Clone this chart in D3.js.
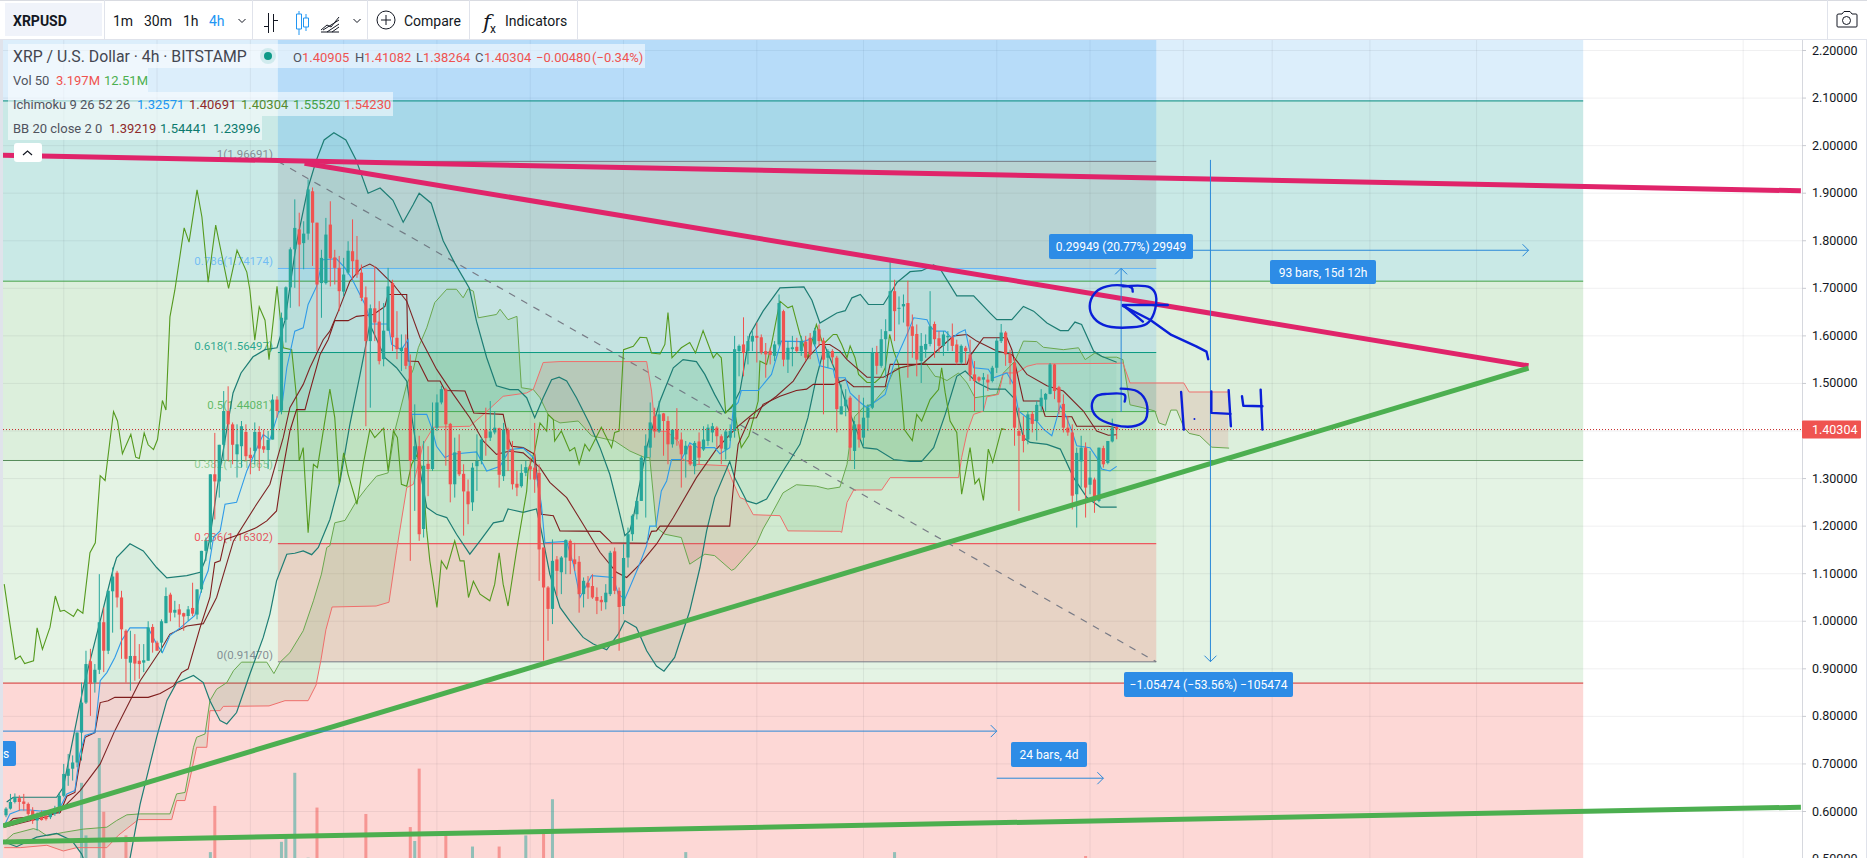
<!DOCTYPE html>
<html>
<head>
<meta charset="utf-8">
<script src="https://cdn.jsdelivr.net/npm/d3@7"></script>
<style>
html,body{margin:0;padding:0;background:#fff;overflow:hidden;}
svg{display:block;}
text{font-family:Roboto,"Open Sans",sans-serif;}
</style>
</head>
<body>
<script>
// open, high, low, close per 4h bar
var candlesA = [[.592,.609,.588,.606],[.606,.637,.604,.620],[.620,.638,.617,.630],[.628,.634,.602,.620],[.621,.637,.602,.616],[.616,.619,.591,.595],[.602,.609,.574,.580],[.581,.598,.560,.591],[.595,.602,.581,.582],[.591,.598,.581,.584],
[.588,.605,.584,.598],[.595,.612,.591,.602],[.602,.640,.595,.633],[.633,.700,.630,.679],[.675,.721,.654,.690],[.690,.718,.665,.703],[.703,.766,.693,.766],[.766,.871,.707,.829],[.829,.938,.826,.910],[.916,.942,.801,.868],
[.871,.910,.850,.898],[.898,1.099,.889,.998],[.998,1.029,.893,.938],[.938,1.064,.931,1.064],[1.063,1.113,.976,1.094],[1.102,1.106,1.029,1.050],[1.050,1.064,.921,.983],[.980,.983,.871,.921],[.913,.980,.854,.927],[.927,.973,.875,.911],
[.917,.952,.879,.910],[.913,.952,.893,.918],[.917,1.0,.917,.987],[.988,.994,.934,.955],[.955,.959,.938,.938],[.955,1.004,.934,1.0],[.996,1.071,.996,1.053],[1.056,1.060,1.0,1.018],[1.018,1.043,1.008,1.024],[1.025,1.036,.987,1.014],
[1.017,1.018,.980,1.010],[1.011,1.032,1.001,1.025],[1.028,1.081,1.011,1.016],[1.014,1.067,1.004,1.067],[1.067,1.148,1.060,1.148],[1.148,1.176,1.127,1.169],[1.166,1.309,1.151,1.309],[1.309,1.396,1.214,1.294],[1.294,1.371,1.260,1.371],[1.371,1.484,1.337,1.442],
[1.442,1.494,1.337,1.414],[1.414,1.418,1.330,1.371],[1.351,1.414,1.302,1.372],[1.368,1.421,1.323,1.410],[1.398,1.414,1.337,1.347],[1.350,1.365,1.309,1.343],[1.358,1.418,1.330,1.398],[1.398,1.410,1.316,1.363],[1.368,1.403,1.354,1.361],[1.360,1.400,1.320,1.381],
[1.382,1.477,1.382,1.466],[1.466,1.473,1.428,1.442]];
var candlesB = [[1.443,1.649,1.435,1.638],[1.634,1.704,1.586,1.702],[1.702,1.786,1.659,1.782],[1.782,1.887,1.701,1.827],[1.824,1.859,1.662,1.792],[1.795,1.841,1.740,1.815],[1.815,1.929,1.802,1.908],[1.904,1.912,1.747,1.838],[1.838,1.838,1.568,1.708],[1.711,1.781,1.638,1.764],
[1.711,1.848,1.708,1.813],[1.834,1.883,1.704,1.763],[1.765,1.781,1.708,1.743],[1.743,1.768,1.652,1.694],[1.693,1.764,1.683,1.729],[1.733,1.799,1.729,1.779],[1.778,1.845,1.718,1.757],[1.760,1.810,1.722,1.729],[1.733,1.750,1.673,1.680],[1.681,1.704,1.410,1.589],
[1.589,1.666,1.449,1.658],[1.658,1.747,1.589,1.628],[1.630,1.673,1.540,1.547],[1.551,1.669,1.536,1.611],[1.611,1.743,1.610,1.704],[1.711,1.718,1.568,1.597],[1.596,1.652,1.551,1.572],[1.568,1.603,1.526,1.575],[1.575,1.603,1.530,1.537],[1.537,1.561,1.127,1.337],
[1.340,1.456,1.232,1.368],[1.368,1.390,1.169,1.183],[1.194,1.379,1.176,1.327],[1.331,1.368,1.263,1.320],[1.320,1.460,1.316,1.407],[1.407,1.477,1.400,1.460],[1.460,1.495,1.456,1.488],[1.488,1.491,1.327,1.414],[1.415,1.417,1.250,1.288],[1.288,1.386,1.260,1.355],
[1.358,1.393,1.305,1.309],[1.310,1.330,1.180,1.273],[1.273,1.298,1.204,1.246],[1.250,1.333,1.232,1.323],[1.326,1.393,1.274,1.337],[1.337,1.386,1.330,1.382],[1.403,1.449,1.348,1.385],[1.386,1.463,1.379,1.399],[1.397,1.442,1.393,1.407],[1.406,1.407,1.281,1.308],
[1.305,1.417,1.295,1.403],[1.403,1.407,1.316,1.361],[1.361,1.379,1.277,1.288],[1.289,1.316,1.263,1.281],[1.284,1.330,1.281,1.312],[1.312,1.337,1.305,1.324],[1.326,1.344,1.298,1.319],[1.323,1.417,1.270,1.298],[1.312,1.330,1.085,1.151],[1.155,1.155,.917,1.071],
[1.071,1.074,.959,1.026],[1.026,1.172,.994,1.127]];
var candlesC = [[1.130,1.137,1.053,1.106],[1.103,1.137,1.057,1.134],[1.134,1.172,1.099,1.171],[1.169,1.172,1.099,1.127],[1.130,1.165,1.106,1.120],[1.125,1.137,1.018,1.057],[1.057,1.092,1.029,1.085],[1.081,1.095,1.047,1.071],[1.074,1.099,1.047,1.050],[1.051,1.071,1.015,1.043],
[1.045,1.053,1.022,1.040],[1.040,1.078,1.025,1.060],[1.057,1.148,1.053,1.144],[1.147,1.155,1.057,1.064],[1.064,1.071,.938,1.030],[1.032,1.162,1.015,1.133],[1.134,1.197,1.113,1.183],[1.183,1.225,1.169,1.222],[1.225,1.260,1.214,1.253],[1.253,1.348,1.253,1.344],
[1.344,1.393,1.218,1.369],[1.365,1.460,1.344,1.418],[1.431,1.449,1.386,1.399],[1.399,1.463,1.396,1.435],[1.437,1.438,1.348,1.421],[1.421,1.431,1.330,1.372],[1.372,1.403,1.365,1.403],[1.403,1.448,1.369,1.382],[1.382,1.397,1.281,1.351],[1.351,1.379,1.302,1.369],
[1.369,1.372,1.327,1.330],[1.326,1.379,1.309,1.375],[1.378,1.397,1.330,1.344],[1.361,1.410,1.358,1.382],[1.379,1.414,1.369,1.407],[1.397,1.417,1.376,1.410],[1.407,1.410,1.365,1.389],[1.389,1.393,1.330,1.363],[1.361,1.403,1.340,1.399],[1.386,1.414,1.379,1.400],
[1.400,1.600,1.386,1.572],[1.568,1.582,1.515,1.579],[1.582,1.639,1.515,1.564],[1.568,1.600,1.540,1.589],[1.588,1.610,1.568,1.600],[1.600,1.628,1.544,1.596],[1.597,1.603,1.561,1.565],[1.568,1.585,1.512,1.561],[1.568,1.575,1.540,1.560],[1.558,1.589,1.547,1.582],
[1.582,1.687,1.578,1.669],[1.652,1.655,1.536,1.550],[1.550,1.589,1.522,1.575],[1.572,1.600,1.536,1.576],[1.577,1.596,1.564,1.568],[1.568,1.600,1.558,1.589],[1.588,1.600,1.547,1.554],[1.596,1.606,1.551,1.561],[1.582,1.617,1.578,1.611],[1.614,1.624,1.578,1.589],
[1.590,1.596,1.435,1.550],[1.554,1.572,1.533,1.568],[1.568,1.572,1.540,1.555]];
var candlesD = [[1.554,1.558,1.397,1.446],[1.435,1.498,1.435,1.452],[1.452,1.488,1.431,1.466],[1.470,1.474,1.338,1.365],[1.358,1.421,1.320,1.414],[1.414,1.476,1.365,1.382],[1.386,1.470,1.369,1.428],[1.428,1.456,1.400,1.449],[1.449,1.575,1.446,1.565],[1.565,1.579,1.519,1.537],
[1.537,1.614,1.533,1.593],[1.593,1.635,1.512,1.610],[1.610,1.757,1.610,1.694],[1.694,1.718,1.589,1.652],[1.657,1.683,1.624,1.659],[1.662,1.687,1.628,1.667],[1.669,1.716,1.512,1.620],[1.620,1.645,1.554,1.600],[1.604,1.624,1.515,1.550],[1.547,1.606,1.501,1.579],
[1.571,1.603,1.554,1.583],[1.583,1.694,1.578,1.620],[1.625,1.630,1.554,1.593],[1.595,1.610,1.565,1.579],[1.579,1.610,1.558,1.603],[1.597,1.610,1.568,1.600],[1.597,1.626,1.568,1.579],[1.582,1.592,1.540,1.544],[1.544,1.582,1.540,1.579],[1.575,1.579,1.540,1.568],
[1.561,1.592,1.505,1.518],[1.519,1.547,1.442,1.505],[1.513,1.515,1.502,1.506],[1.508,1.522,1.442,1.513],[1.508,1.519,1.484,1.502],[1.505,1.537,1.502,1.533],[1.533,1.596,1.522,1.590],[1.589,1.625,1.585,1.607],[1.607,1.610,1.537,1.561],[1.561,1.571,1.498,1.543],
[1.543,1.554,1.369,1.407],[1.400,1.449,1.232,1.390],[1.392,1.431,1.355,1.379],[1.382,1.442,1.372,1.435],[1.436,1.442,1.397,1.415],[1.421,1.463,1.380,1.455],[1.452,1.488,1.442,1.470],[1.466,1.480,1.442,1.478],[1.478,1.543,1.477,1.540],[1.540,1.541,1.467,1.484],
[1.492,1.495,1.435,1.460],[1.457,1.477,1.397,1.407],[1.407,1.432,1.390,1.397],[1.397,1.414,1.235,1.264],[1.267,1.365,1.197,1.354],[1.336,1.390,1.281,1.365],[1.365,1.376,1.218,1.281],[1.287,1.358,1.267,1.302],[1.298,1.302,1.228,1.253],[1.253,1.365,1.250,1.365],
[1.364,1.369,1.323,1.330],[1.333,1.379,1.330,1.379],[1.378,1.426,1.376,1.407],[1.40905,1.41082,1.38264,1.40304]];

// indicator lines as [bar, price] knots
var tenkan = [[-.4,.57],[.9,.595],[3.2,.603],[5.4,.603],[7.6,.601],[9.9,.602],[12.2,.609],[13.7,.637],[15.5,.644],[16.6,.721],[17.8,.76],[20,.766],[21.2,.875],[22.7,.892],[24.5,.924],[26,.959],[27.9,.986],[32,.986],[33.9,.952],[35.2,.934],[36.9,.97],[39.2,.986],[42.5,1.012],[44.4,1.081],[45.5,1.106],[46.7,1.176],[48.2,1.19],[49.3,1.246],[51.9,1.25],[54.2,1.316],[57.9,1.393],[59.4,1.382],[61.3,1.438],[62,1.445],[63.2,1.533],[65,1.61],[66.9,1.617],[68,1.666],[69.9,1.704],[71.3,1.76],[74.4,1.762],[76.3,1.743],[77.8,1.721],[80.8,1.666],[82.3,1.625],[86,1.625],[86.8,1.582],[89,1.571],[90.5,1.592],[91.3,1.435],[94.7,1.435],[95.8,1.407],[96.9,1.368],[98.8,1.344],[100.3,1.351],[105.9,1.356],[108.2,1.316],[111.2,1.326],[113.4,1.361],[116.4,1.364],[118.7,1.344],[120.5,1.246],[121.3,1.165],[126.2,1.168],[127.7,1.12],[129.2,1.05],[131.8,1.096],[136.7,1.092],[137.8,1.057],[139.3,1.047],[142.3,1.113],[144.2,1.159],[144.9,1.2],[146.3,1.2],[147.5,1.274],[148.7,1.295],[149.8,1.34],[152,1.34],[153.2,1.36],[153.9,1.375],[155.8,1.365],[159.5,1.365],[160.7,1.352],[162.9,1.365],[163.7,1.449],[164.8,1.46],[165.5,1.485],[169.3,1.485],[172.3,1.519],[174.5,1.589],[179.4,1.588],[181.7,1.595],[183.2,1.537],[186.2,1.53],[186.6,1.512],[188.9,1.512],[190,1.48],[192.3,1.46],[193.8,1.449],[197.9,1.477],[199.8,1.54],[203.1,1.61],[204.3,1.638],[207.3,1.634],[208,1.62],[209.1,1.61],[211.4,1.61],[212.9,1.595],[214.4,1.606],[215.9,1.613],[216.6,1.582],[217.8,1.533],[221.1,1.53],[222.3,1.512],[225.3,1.522],[226.8,1.498],[227.9,1.442],[229.8,1.428],[232,1.421],[233.5,1.404],[235.4,1.39],[237.3,1.453],[238.4,1.435],[239.9,1.4],[241,1.369],[244,1.365],[245.5,1.344],[246.6,1.32],[248.5,1.316],[250,1.32571]];
var kijun = [[-.4,.567],[1.6,.585],[6.9,.59],[12.2,.598],[13.7,.632],[15.5,.64],[16.7,.707],[17.8,.756],[20,.766],[21.2,.829],[23,.833],[24.5,.84],[32,.84],[34.7,.848],[37.7,.864],[39.5,.892],[41,.9],[43.7,.987],[45.9,1.05],[47,1.123],[48.2,1.127],[49.3,1.172],[52.7,1.183],[56.4,1.197],[58.7,1.211],[60.9,1.232],[62,1.302],[63.9,1.4],[65.4,1.445],[67.3,1.445],[68.4,1.484],[70.7,1.561],[72.5,1.592],[74,1.632],[77,1.632],[78.9,1.641],[82.7,1.645],[85.3,1.662],[86,1.687],[90.2,1.687],[90.5,1.547],[92.8,1.546],[95,1.505],[97.7,1.505],[98.8,1.485],[103.3,1.484],[105.3,1.438],[111.9,1.435],[113,1.386],[113.8,1.368],[116.4,1.365],[119,1.351],[120.5,1.225],[123.2,1.222],[124.7,1.19],[133.7,1.189],[136.3,1.165],[144.2,1.164],[145.3,1.189],[146.4,1.19],[147.2,1.2],[162.9,1.2],[164,1.309],[164.8,1.372],[167.4,1.427],[168.9,1.428],[170.4,1.456],[174.2,1.473],[177.9,1.485],[180.2,1.488],[181.7,1.498],[186.2,1.498],[188.9,1.508],[190.8,1.493],[197.9,1.493],[199,1.54],[216.3,1.54],[217,1.558],[220,1.596],[225.3,1.596],[226.4,1.571],[229,1.463],[232.8,1.463],[233.9,1.431],[239.9,1.43],[241,1.41],[248.1,1.41],[250,1.40691]];
var chikou = [[-.4,1.078],[.9,.994],[2.1,.92],[3.2,.927],[4.2,.911],[6.2,.917],[7,.986],[8.2,.941],[9.9,.987],[11.1,1.053],[12.2,1.021],[13.1,1.023],[15.2,1.01],[16.1,1.025],[17.3,1.017],[18.9,1.144],[20.1,1.165],[21.2,1.306],[22.3,1.296],[24.2,1.441],[25.1,1.421],[26.2,1.352],[28.1,1.393],[29.2,1.345],[30,1.342],[31.1,1.396],[32,1.371],[33.2,1.361],[34.1,1.382],[35.2,1.464],[36,1.444],[36.9,1.64],[38,1.696],[40.1,1.827],[41.2,1.797],[43,1.907],[44.1,1.85],[45.5,1.713],[47.2,1.833],[50.1,1.70],[52,1.78],[54.2,1.734],[54.9,1.696],[56,1.591],[57,1.661],[58.3,1.633],[59.2,1.55],[61,1.704],[62.4,1.575],[64.3,1.571],[65.4,1.47],[66,1.337],[66.9,1.365],[68,1.186],[69.2,1.33],[70.1,1.323],[72.9,1.488],[74,1.428],[75,1.288],[76,1.354],[77,1.309],[79,1.246],[80.4,1.33],[81.9,1.403],[83,1.386],[85,1.406],[86,1.316],[87.2,1.4],[88.1,1.386],[89,1.288],[90.2,1.284],[91.3,1.33],[92.5,1.35],[93.8,1.316],[94.7,1.19],[95.4,1.127],[97,1.029],[98,1.127],[99.2,1.11],[101,1.169],[102.2,1.127],[103.1,1.127],[104.1,1.05],[105.2,1.084],[106.7,1.057],[108.9,1.043],[110,1.078],[111,1.144],[111.9,1.078],[113,1.032],[114.9,1.148],[117.2,1.274],[117.5,1.316],[119,1.358],[120.2,1.417],[121.7,1.4],[122,1.435],[123.2,1.424],[123.5,1.379],[125,1.4],[126.9,1.358],[128,1.365],[129,1.33],[130.3,1.372],[131.3,1.358],[134,1.408],[136.3,1.365],[137,1.397],[138,1.4],[139,1.571],[141.2,1.578],[142.7,1.597],[144.2,1.596],[145.3,1.564],[147.2,1.562],[148.3,1.582],[149,1.649],[149.9,1.554],[152,1.575],[153.9,1.586],[155.2,1.564],[156.9,1.611],[159.2,1.554],[160,1.564],[161,1.554],[162,1.438],[163.7,1.456],[164.8,1.4],[165.5,1.365],[167.2,1.39],[169.3,1.463],[169.7,1.547],[171.2,1.54],[172.3,1.582],[174.2,1.673],[176,1.659],[177,1.663],[178.7,1.603],[180.5,1.554],[182.4,1.624],[183.9,1.582],[186.2,1.603],[187,1.603],[188.1,1.582],[189.3,1.554],[190,1.579],[191.1,1.554],[191.9,1.519],[193.8,1.502],[195.6,1.502],[196.8,1.512],[197.9,1.533],[198.9,1.603],[199.8,1.568],[200.9,1.54],[201.6,1.47],[202.2,1.403],[204,1.38],[205,1.435],[206.1,1.421],[208,1.466],[209.9,1.487],[210.6,1.533],[211.4,1.48],[212.5,1.421],[214,1.397],[215.1,1.267],[217,1.365],[218.1,1.289],[219,1.3],[220,1.254],[221.1,1.362],[222.1,1.334],[224.1,1.405],[224.9,1.40304]];
var senkouA = [[-.4,.536],[1.65,.553],[6.15,.564],[7.3,.561],[9.2,.549],[12.9,.556],[17.4,.563],[22.7,.567],[24.9,.581],[27.2,.593],[30.2,.595],[36.9,.595],[38.4,.637],[40.3,.64],[42.2,.735],[42.9,.756],[44.8,.763],[45.9,.833],[47.4,.857],[49.7,.871],[51.2,.896],[53,.914],[58.7,.914],[60.3,.89],[61.7,.914],[63.9,.934],[66.9,.98],[69.2,1.043],[71,1.099],[72.2,1.155],[72.9,1.159],[74,1.207],[76.3,1.212],[78.9,1.253],[81.2,1.281],[83.4,1.305],[86,1.312],[87.5,1.4],[90.2,1.498],[91.7,1.53],[92.8,1.575],[94.7,1.617],[96.5,1.67],[99.2,1.698],[101.4,1.698],[102.9,1.68],[104,1.699],[105.2,1.694],[106.3,1.638],[110.4,1.645],[111.2,1.656],[113,1.634],[115,1.641],[116,1.491],[118.7,1.487],[120.2,1.47],[122,1.435],[123.2,1.424],[124.7,1.417],[128.8,1.421],[131.8,1.39],[137,1.379],[140.4,1.358],[143.8,1.344],[144.9,1.344],[146.4,1.197],[148.3,1.183],[152,1.176],[153.9,1.12],[157.3,1.141],[159.5,1.138],[163.3,1.107],[164,1.11],[168.9,1.162],[170.4,1.194],[172.3,1.225],[174.9,1.27],[177.9,1.287],[182.4,1.284],[185,1.278],[187.7,1.282],[189.3,1.33],[190,1.38],[191,1.43],[193,1.45],[195,1.457],[198,1.49],[200,1.53],[203,1.537],[207,1.543],[209.1,1.515],[210.3,1.513],[211.8,1.506],[214.4,1.522],[216.3,1.501],[218.1,1.47],[223,1.477],[224.5,1.522],[227.1,1.547],[229,1.589],[232,1.588],[233.5,1.576],[238,1.571],[241.4,1.575],[242.9,1.55],[245.1,1.564],[247,1.555],[250,1.5552],[251.4,1.55],[253,1.455],[255.9,1.449],[258.6,1.442],[259.5,1.417],[261,1.412],[262.2,1.444],[263.5,1.444],[265.1,1.408],[266.3,1.395],[268.7,1.39],[271.4,1.366],[275.3,1.364]];
var senkouB = [[-.4,.524],[3.2,.524],[9.2,.529],[12.9,.517],[15.9,.524],[22.7,.524],[25.3,.55],[27.2,.564],[29.8,.583],[37.3,.583],[38.4,.623],[40.3,.623],[41.8,.686],[42.9,.735],[45.2,.735],[45.9,.812],[48.2,.812],[48.9,.821],[59.2,.822],[62.8,.833],[68,.833],[69.8,.866],[70.9,.919],[72,.982],[73.4,1.03],[83.3,1.032],[86.2,1.04],[87.9,1.148],[90.2,1.281],[91.7,1.288],[93.9,1.372],[96.2,1.408],[104.4,1.41],[108.2,1.441],[111.9,1.473],[117.2,1.48],[118.7,1.488],[120.9,1.544],[124.7,1.546],[144.2,1.546],[145.3,1.484],[145.8,1.435],[146.4,1.4],[148.7,1.399],[151.3,1.379],[152.4,1.34],[155.4,1.33],[162.2,1.327],[163.7,1.291],[165.2,1.26],[166.3,1.256],[168.2,1.224],[174.2,1.222],[176,1.19],[187.7,1.189],[188.1,1.187],[189.3,1.25],[190.8,1.276],[197.1,1.276],[199,1.302],[214.4,1.302],[215.1,1.344],[216.3,1.396],[217.8,1.435],[220,1.442],[220.8,1.472],[223.4,1.477],[224.5,1.522],[227.5,1.522],[229.8,1.536],[232,1.541],[250,1.5423],[251.4,1.543],[253,1.501],[265.1,1.501],[266.3,1.482],[275.3,1.482]];
var bbBasis = [[-.4,.567],[9.9,.591],[12.2,.602],[16.7,.644],[21.2,.7],[24.5,.77],[30.2,.875],[34.7,.938],[36.9,.973],[40.7,.99],[44.4,.995],[47.4,1.05],[51.2,1.169],[56.4,1.246],[59.4,1.288],[62.4,1.386],[63.9,1.449],[66.9,1.498],[68.4,1.533],[71.4,1.592],[72.9,1.61],[74.8,1.652],[77.4,1.715],[80,1.743],[81.9,1.751],[83.4,1.743],[87.2,1.708],[90.2,1.673],[93.2,1.596],[96.9,1.53],[100.7,1.477],[104.4,1.428],[107.4,1.379],[110.4,1.351],[113.4,1.358],[116.4,1.354],[120.2,1.323],[122.4,1.292],[126.2,1.26],[129.9,1.204],[133.7,1.145],[137.4,1.103],[139.7,1.092],[142.7,1.12],[146.4,1.162],[150.2,1.218],[155.4,1.302],[159.9,1.362],[164.4,1.407],[168.9,1.442],[173.4,1.473],[177.2,1.505],[180.5,1.554],[183.2,1.582],[185.4,1.582],[187.7,1.568],[189.3,1.55],[193.8,1.513],[197.5,1.513],[201.3,1.533],[206.5,1.543],[210.3,1.575],[213.3,1.6],[216.3,1.603],[218.5,1.589],[223,1.568],[226.4,1.561],[229.8,1.519],[234.3,1.495],[238,1.484],[242.5,1.442],[245.5,1.4],[248.1,1.391],[250,1.39219]];
var bbUpper = [[.15,.62],[1.65,.63],[11.4,.63],[12.9,.651],[17.4,.861],[21.2,1.001],[24.2,1.113],[24.9,1.134],[27.9,1.163],[30.9,1.148],[33.9,1.113],[36.2,1.091],[40.7,1.096],[43.7,1.103],[44.8,1.127],[45.9,1.176],[48,1.31],[51.1,1.48],[52.9,1.522],[55.6,1.556],[58.3,1.571],[61,1.575],[62.8,1.633],[65.3,1.791],[68,1.912],[69.8,1.968],[71.6,2.012],[73.8,2.027],[76.5,2.012],[78.8,1.97],[81.5,1.90],[84.2,1.911],[87.1,1.885],[89.4,1.839],[91.6,1.875],[93,1.90],[95.7,1.879],[98.4,1.8],[101,1.753],[104.3,1.70],[105.9,1.631],[108.2,1.554],[110.4,1.495],[113.4,1.487],[115.3,1.487],[117.2,1.47],[119,1.428],[120.9,1.47],[122.8,1.508],[124.5,1.513],[126.2,1.505],[128.4,1.47],[131.4,1.414],[133.7,1.365],[135.9,1.309],[137.8,1.239],[139.3,1.18],[140.4,1.19],[141.2,1.218],[144.2,1.365],[147.2,1.463],[150.2,1.533],[152.4,1.55],[155.4,1.546],[157.3,1.519],[159.5,1.477],[161.8,1.438],[163.3,1.449],[165.2,1.484],[167.4,1.603],[170.4,1.652],[174.2,1.701],[179.6,1.703],[181.4,1.675],[183.2,1.627],[187,1.648],[188.9,1.653],[190.4,1.68],[192.3,1.687],[194.1,1.666],[197.5,1.666],[198.9,1.687],[200.5,1.712],[203.5,1.735],[206.1,1.737],[208.8,1.749],[210.3,1.74],[214,1.684],[217.8,1.684],[221.5,1.648],[223,1.634],[226.4,1.634],[229,1.662],[231.3,1.652],[234.3,1.627],[237.3,1.611],[239.1,1.611],[240.6,1.629],[242.1,1.624],[244.8,1.568],[246.6,1.557],[250,1.54441]];
var bbLower = [[-.4,.536],[2.4,.526],[6.9,.546],[11.4,.554],[14.8,.539],[17,.511],[18.2,.483],[21,.44],[25,.44],[27.9,.501],[30.2,.616],[33.9,.756],[36.2,.833],[38.4,.871],[42.2,.886],[44.4,.871],[45.9,.833],[48.2,.791],[49.7,.784],[51.9,.808],[54.9,.889],[57.9,.966],[59.4,1.015],[60.9,1.085],[63.2,1.141],[65,1.143],[66.9,1.148],[68.8,1.14],[70.3,1.155],[72.9,1.214],[75.2,1.295],[77.4,1.414],[79.7,1.519],[81.9,1.624],[85.3,1.554],[87.9,1.533],[90.2,1.505],[91.7,1.407],[93.2,1.316],[94.7,1.239],[96.9,1.225],[99.2,1.218],[101.4,1.183],[104.4,1.141],[106.7,1.169],[109.7,1.207],[111.9,1.211],[113,1.236],[116.4,1.229],[119.4,1.236],[120.5,1.19],[122.4,1.099],[124.7,1.029],[126.9,1.001],[129.9,.966],[132.2,.952],[135.2,.94],[137.8,.973],[139.3,1.001],[141.9,.987],[144.2,.938],[146.4,.906],[148.1,.895],[150.5,.924],[153.9,1.022],[156.2,1.113],[157.7,1.19],[159.5,1.26],[162.9,1.336],[164,1.302],[166.7,1.253],[168.9,1.247],[171.2,1.257],[174.9,1.316],[178.7,1.372],[180.5,1.428],[182.4,1.512],[184.3,1.579],[187,1.519],[188.9,1.463],[190.8,1.417],[193,1.365],[196,1.362],[199.8,1.34],[203.5,1.336],[206.1,1.336],[208.8,1.365],[211.4,1.435],[214,1.515],[215.9,1.526],[218.5,1.502],[221.5,1.488],[224.9,1.488],[226.8,1.47],[229,1.386],[230.5,1.376],[234.3,1.372],[237.3,1.362],[240.3,1.302],[243.3,1.26],[246.3,1.24],[250,1.23996]];

// volume, millions, only the bars tall enough to show above the crop
var volumeBars = [17,18,21,22,27,46,47,62,63,65,68,70,81,91,92,93,99,105,111,117,121,123,153,200,243];
var volumeValues = [43.9,25,60,33.5,25,19,35.6,22.7,25,47.5,17,35,32.7,28,23,49,26,21,21,25,27,38,19,19,17.6];
var volumeSide = ["up","up","up","down","down","up","down","up","up","up","up","down","down","down","up","down","down","up","down","up","down","up","up","up","down"];

var priceTicks = [2.2,2.1,2.0,1.9,1.8,1.7,1.6,1.5,1.4,1.3,1.2,1.1,1.0,0.9,0.8,0.7,0.6,0.5];
var gridBars = [13,34,55,76,97,118,139,169,193,223,244,265,285,307,331,391];
var lastPrice = 1.40304;

var fibLevels = [1.96691,1.74174,1.56497,1.44081,1.31665,1.16302,0.9147];
var fibNames = ["1","0.786","0.618","0.5","0.382","0.236","0"];
var fibColors = ["#787b86","#64b5f6","#089981","#4caf50","#81c784","#f23645","#787b86"];
var wideLevels = [2.094,1.715,1.338,0.87];
var wideLineColors = ["#00897b","#43a047","#558b5a","#d32f2f"];
var wideFills = ["#dceefb","#c9e9e6","#dcefdc","#e4f3e4","#fdd8d6"];

var trendPink = [[[-.7,1.98],[404,1.905]],[[67.2,1.963],[342.7,1.537]]];
var trendGreen = [[[-.7,.57],[342.7,1.532]],[[-.7,.536],[404,.609]]];

var annotationCurves = [
    [[251.4,1.704],[257.5,1.702],[258.8,1.686],[258.4,1.648],[256.7,1.625],[253.4,1.618],[247,1.623],[244.4,1.644],[244,1.669],[245.4,1.693],[247.8,1.704],[251.4,1.706],[253.4,1.701],[253.6,1.693]],
    [[250.9,1.489],[254.7,1.483],[256.7,1.459],[256.5,1.424],[254.3,1.411],[249.4,1.413],[245.4,1.431],[244.4,1.452],[245.4,1.473],[247.8,1.478],[251.8,1.476],[251.8,1.462]]
];
var annotationStrokes = [
    [[261.5,1.665],[251.4,1.665],[255.9,1.63]],
    [[251.4,1.663],[257.5,1.634],[262.3,1.602],[267.9,1.578],[270.2,1.567],[270.6,1.551]],
    [[264.5,1.482],[265.1,1.403]],
    [[271.3,1.483],[271.3,1.438],[275.6,1.436]],
    [[275.2,1.486],[275.7,1.41]],
    [[278.2,1.473],[278.5,1.453],[282.8,1.452]],
    [[282.4,1.487],[282.8,1.403]]
];

var W = 1867, H = 858;
var axisX = 1802, chartTop = 40, chartLeft = 3;

var candles = candlesA.concat(candlesB, candlesC, candlesD);

var x = d3.scaleLinear().domain([0, candles.length - 1]).range([6, 1116.7]);
var y = d3.scaleLinear().domain([2.2, 0.6]).range([50.5, 811.5]);
var vol = d3.scaleLinear().domain([0, 60]).range([905, 738]);

var svg = d3.select("body").append("svg").attr("width", W).attr("height", H);
svg.append("rect").attr("width", W).attr("height", H).style("fill", "white");

svg.append("clipPath").attr("id", "plot").append("rect")
    .attr("x", chartLeft).attr("y", chartTop)
    .attr("width", axisX - chartLeft).attr("height", H - chartTop);

var plot = svg.append("g").attr("clip-path", "url(#plot)");

var line = d3.line().x(function(d){ return x(d[0]); }).y(function(d){ return y(d[1]); });

function hband(group, top, bottom, b0, b1, fill){
    group.append("rect")
        .attr("x", x(b0)).attr("width", x(b1) - x(b0))
        .attr("y", y(top)).attr("height", y(bottom) - y(top))
        .style("fill", fill);
}

function hline(group, price, b0, b1, color, width){
    group.append("line")
        .attr("x1", x(b0)).attr("x2", x(b1))
        .attr("y1", y(price)).attr("y2", y(price))
        .style("stroke", color).style("stroke-width", width);
}

// wide price range behind everything
var rangeEnd = 355, rangeStart = -0.7;
var wideEdges = [2.4].concat(wideLevels, [0.3]);
wideFills.forEach(function(f, i){
    hband(plot, wideEdges[i], wideEdges[i + 1], rangeStart, rangeEnd, f);
});

// grid
plot.selectAll(".vgrid").data(gridBars).enter().append("line")
    .attr("x1", function(d){ return x(d); }).attr("x2", function(d){ return x(d); })
    .attr("y1", chartTop).attr("y2", H)
    .style("stroke", "#2a2e39").style("stroke-opacity", 0.07);
plot.selectAll(".hgrid").data(priceTicks).enter().append("line")
    .attr("x1", chartLeft).attr("x2", axisX)
    .attr("y1", function(d){ return y(d); }).attr("y2", function(d){ return y(d); })
    .style("stroke", "#2a2e39").style("stroke-opacity", 0.07);

// fib retracement
var fibStart = 61.2, fibEnd = 258.9;
var fibFills = ["rgba(120,123,134,.2)","rgba(100,181,246,.2)","rgba(0,150,136,.2)","rgba(76,175,80,.2)","rgba(129,199,132,.2)","rgba(244,67,54,.18)"];
hband(plot, 2.4, fibLevels[0], fibStart, fibEnd, "rgba(33,150,243,.2)");
fibFills.forEach(function(f, i){
    hband(plot, fibLevels[i], fibLevels[i + 1], fibStart, fibEnd, f);
});

wideLevels.forEach(function(p, i){
    hline(plot, p, rangeStart, rangeEnd, wideLineColors[i], 1);
});
fibLevels.forEach(function(p, i){
    hline(plot, p, fibStart, fibEnd, fibColors[i], 1);
    plot.append("text")
        .attr("x", 273).attr("y", y(p) - 3)
        .attr("text-anchor", "end")
        .style("font-size", "11.5px")
        .style("fill", fibColors[i])
        .style("fill-opacity", 0.85)
        .text(fibNames[i] + "(" + d3.format(".5f")(p) + ")");
});

plot.append("line")
    .attr("x1", x(fibStart)).attr("y1", y(fibLevels[0]))
    .attr("x2", x(fibEnd)).attr("y2", y(fibLevels[6]))
    .style("stroke", "#787b86").style("stroke-width", 1.2).style("stroke-dasharray", "7,7");

// shared helper for the filled channels
function valueAt(series, b){
    var i = d3.bisector(function(d){ return d[0]; }).left(series, b);
    if(i <= 0) return series[0][1];
    if(i >= series.length) return series[series.length - 1][1];
    var a = series[i - 1], c = series[i];
    return a[1] + (c[1] - a[1]) * (b - a[0]) / (c[0] - a[0]);
}

// bollinger background
var bbSteps = d3.range(0.15, 250.01, 0.25);
plot.append("path")
    .attr("d", d3.area()
        .x(function(d){ return x(d); })
        .y0(function(d){ return y(valueAt(bbLower, d)); })
        .y1(function(d){ return y(valueAt(bbUpper, d)); })(bbSteps))
    .style("fill", "rgba(0,137,123,.05)");

// ichimoku cloud, split where the two spans cross
var cloudRuns = [], run = null;
for(var b = -0.4; b <= 275.3; b += 0.25){
    var a1 = valueAt(senkouA, b), b1 = valueAt(senkouB, b);
    var up = a1 >= b1;
    var pt = {b: b, a: a1, c: b1};
    if(!run || run.up != up){
        if(run) run.pts.push(pt);
        run = {up: up, pts: run ? [run.pts[run.pts.length - 1], pt] : [pt]};
        cloudRuns.push(run);
    }
    else run.pts.push(pt);
}
var cloudArea = d3.area()
    .x(function(d){ return x(d.b); })
    .y0(function(d){ return y(d.c); })
    .y1(function(d){ return y(d.a); });
plot.selectAll(".cloud").data(cloudRuns).enter().append("path")
    .attr("d", function(d){ return cloudArea(d.pts); })
    .style("fill", function(d){ return d.up ? "rgba(67,160,71,.11)" : "rgba(229,83,80,.14)"; });

// volume
plot.selectAll(".volume").data(volumeBars).enter().append("rect")
    .attr("x", function(d){ return x(d) - 1.5; })
    .attr("width", 3)
    .attr("y", function(d, i){ return vol(volumeValues[i]); })
    .attr("height", function(d, i){ return vol(0) - vol(volumeValues[i]); })
    .style("fill", function(d, i){ return volumeSide[i] == "up" ? "rgba(38,166,154,.5)" : "rgba(239,83,80,.5)"; });

// indicator lines
var indicatorLines = [
    {pts: senkouA, color: "#6aa84f", w: 1},
    {pts: senkouB, color: "#ef6f6c", w: 1},
    {pts: bbUpper, color: "#1d7d74", w: 1.2},
    {pts: bbLower, color: "#1d7d74", w: 1.2},
    {pts: chikou, color: "#559a1f", w: 1.1},
    {pts: bbBasis, color: "#7d2525", w: 1.1},
    {pts: kijun, color: "#7f1d1d", w: 1.1},
    {pts: tenkan, color: "#2f9be8", w: 1.1}
];
plot.selectAll(".indicator").data(indicatorLines).enter().append("path")
    .attr("d", function(d){ return line(d.pts); })
    .style("fill", "none")
    .style("stroke", function(d){ return d.color; })
    .style("stroke-width", function(d){ return d.w; });

// candles
var candle = plot.selectAll(".candle").data(candles).enter().append("g");
function candleColor(d){ return d[3] >= d[0] ? "#26a69a" : "#ef5350"; }
candle.append("line")
    .attr("x1", function(d, i){ return x(i); }).attr("x2", function(d, i){ return x(i); })
    .attr("y1", function(d){ return y(d[1]); }).attr("y2", function(d){ return y(d[2]); })
    .style("stroke", candleColor).style("stroke-width", 1);
candle.append("rect")
    .attr("x", function(d, i){ return x(i) - 1.6; })
    .attr("width", 3.2)
    .attr("y", function(d){ return y(Math.max(d[0], d[3])); })
    .attr("height", function(d){ return Math.max(1, Math.abs(y(d[0]) - y(d[3]))); })
    .style("fill", candleColor);

// price line
plot.append("line")
    .attr("x1", chartLeft).attr("x2", axisX)
    .attr("y1", y(lastPrice)).attr("y2", y(lastPrice))
    .style("stroke", "#c62828").style("stroke-width", 1).style("stroke-dasharray", "1,2");

// thick trend lines
trendPink.forEach(function(t){
    plot.append("path").attr("d", line(t)).style("stroke", "#e0246a").style("stroke-width", 5).style("fill", "none");
});
trendGreen.forEach(function(t){
    plot.append("path").attr("d", line(t)).style("stroke", "#4caf50").style("stroke-width", 5).style("fill", "none");
});

// measure tools
var toolBlue = "#2a88d8";
function arrow(b0, p0, b1, p1){
    plot.append("path").attr("d", line([[b0, p0], [b1, p1]]))
        .style("stroke", toolBlue).style("stroke-width", 1).style("fill", "none");
    var tx = x(b1), ty = y(p1), dx = 6, head;
    if(p0 == p1) head = [[tx - dx, ty - dx], [tx, ty], [tx - dx, ty + dx]];
    else if(p1 < p0) head = [[tx - dx, ty - dx], [tx, ty], [tx + dx, ty - dx]];
    else head = [[tx - dx, ty + dx], [tx, ty], [tx + dx, ty + dx]];
    plot.append("path").attr("d", d3.line()(head))
        .style("stroke", toolBlue).style("stroke-width", 1).style("fill", "none");
}
arrow(271.1, 1.97, 271.1, 0.915);
arrow(251, 1.44, 251, 1.742);
arrow(250, 1.78, 342.7, 1.78);
arrow(-5, 0.769, 223, 0.769);
arrow(223, 0.67, 247, 0.67);

function toolLabel(x0, x1, y0, y1, label){
    plot.append("rect")
        .attr("x", x0).attr("y", y0).attr("width", x1 - x0).attr("height", y1 - y0).attr("rx", 2)
        .style("fill", "#2d8ce6");
    plot.append("text")
        .attr("x", (x0 + x1) / 2).attr("y", (y0 + y1) / 2 + 4.5)
        .attr("text-anchor", "middle")
        .style("font-size", "12px").style("fill", "white")
        .text(label);
}
toolLabel(1124, 1293, 672, 697, "\u22121.05474 (\u221253.56%) \u2212105474");
toolLabel(1049, 1193, 234, 259, "0.29949 (20.77%) 29949");
toolLabel(1270, 1376, 260, 284, "93 bars, 15d 12h");
toolLabel(1011, 1087, 742, 767, "24 bars, 4d");
toolLabel(-4, 16, 741, 766, "s");

// hand drawn marks
annotationCurves.forEach(function(c){
    plot.append("path")
        .attr("d", d3.line().curve(d3.curveCatmullRom).x(function(d){ return x(d[0]); }).y(function(d){ return y(d[1]); })(c))
        .style("fill", "none").style("stroke", "#0a1fd8").style("stroke-width", 2.4).style("stroke-linecap", "round");
});
annotationStrokes.forEach(function(c){
    plot.append("path")
        .attr("d", line(c))
        .style("fill", "none").style("stroke", "#0a1fd8").style("stroke-width", 2.4).style("stroke-linecap", "round").style("stroke-linejoin", "round");
});
plot.append("circle").attr("cx", x(267.5)).attr("cy", y(1.425)).attr("r", 1).style("fill", "#0a1fd8");

// price axis
svg.append("rect").attr("x", axisX).attr("y", chartTop).attr("width", W - axisX).attr("height", H - chartTop).style("fill", "white");
svg.append("line").attr("x1", axisX + 0.5).attr("x2", axisX + 0.5).attr("y1", chartTop).attr("y2", H).style("stroke", "#d6d8de");
svg.selectAll(".tick").data(priceTicks).enter().append("line")
    .attr("x1", axisX).attr("x2", axisX + 4)
    .attr("y1", function(d){ return y(d); }).attr("y2", function(d){ return y(d); })
    .style("stroke", "#c8cad0");
svg.selectAll(".ticklabel").data(priceTicks).enter().append("text")
    .attr("x", 1812).attr("y", function(d){ return y(d) + 4; })
    .style("font-size", "12.5px").style("fill", "#131722")
    .text(function(d){ return d3.format(".5f")(d); });
svg.append("rect").attr("x", axisX).attr("y", y(lastPrice) - 9).attr("width", 59).attr("height", 18).attr("rx", 1).style("fill", "#ef5350");
svg.append("text").attr("x", 1812).attr("y", y(lastPrice) + 4.5)
    .style("font-size", "12.5px").style("fill", "white").text(d3.format(".5f")(lastPrice));
svg.append("line").attr("x1", W - 0.5).attr("x2", W - 0.5).attr("y1", 0).attr("y2", H).style("stroke", "#e0e3eb");
svg.append("rect").attr("x", 0).attr("y", 0).attr("width", chartLeft).attr("height", H).style("fill", "#e0e3eb");

// legend
var legend = svg.append("g");
function legendBox(x0, y0, w, h){
    legend.append("rect").attr("x", x0).attr("y", y0).attr("width", w).attr("height", h)
        .style("fill", "white").style("fill-opacity", 0.55);
}
function legendText(tx, ty, size, color, label){
    legend.append("text").attr("x", tx).attr("y", ty)
        .style("font-size", size + "px").style("fill", color).text(label);
}
legendBox(8, 44, 637, 24);
legendBox(8, 68, 140, 24);
legendBox(8, 92, 385, 24);
legendBox(8, 116, 254, 24);
legendText(13, 62, 15.8, "#434651", "XRP / U.S. Dollar \u00b7 4h \u00b7 BITSTAMP");
legend.append("circle").attr("cx", 268).attr("cy", 56).attr("r", 8).style("fill", "#26a69a").style("fill-opacity", 0.15);
legend.append("circle").attr("cx", 268).attr("cy", 56).attr("r", 4).style("fill", "#0f9a88");

var red = "#ef5350", grey = "#50535e";
[[293,"O",grey],[302,"1.40905",red],[355,"H",grey],[364,"1.41082",red],[416,"L",grey],[423,"1.38264",red],[475,"C",grey],[484,"1.40304",red],[536,"\u22120.00480",red],[592,"(\u22120.34%)",red]]
    .forEach(function(t){ legendText(t[0], 62, 13, t[2], t[1]); });
legendText(13, 85, 13, grey, "Vol 50");
legendText(56, 85, 13, red, "3.197M");
legendText(104, 85, 13, "#4caf50", "12.51M");
legendText(13, 109, 13, grey, "Ichimoku 9 26 52 26");
legendText(137, 109, 13, "#2196f3", "1.32571");
legendText(189, 109, 13, "#8e2a2a", "1.40691");
legendText(241, 109, 13, "#558b2f", "1.40304");
legendText(293, 109, 13, "#43a047", "1.55520");
legendText(344, 109, 13, red, "1.54230");
legendText(13, 133, 13, grey, "BB 20 close 2 0");
legendText(109, 133, 13, "#8e2a2a", "1.39219");
legendText(160, 133, 13, "#0c7a6e", "1.54441");
legendText(213, 133, 13, "#0c7a6e", "1.23996");

legend.append("rect").attr("x", 14).attr("y", 143).attr("width", 28).attr("height", 19).attr("rx", 3).style("fill", "white");
legend.append("path").attr("d", "M23,155 L27.5,151 L32,155").style("fill", "none").style("stroke", "#131722").style("stroke-width", 1.2);

// toolbar
var bar = svg.append("g");
bar.append("rect").attr("width", W).attr("height", 39).style("fill", "white");
bar.append("line").attr("x1", 0).attr("x2", W).attr("y1", 39.5).attr("y2", 39.5).style("stroke", "#e0e3eb");
bar.append("line").attr("x1", 0).attr("x2", W).attr("y1", 0.5).attr("y2", 0.5).style("stroke", "#d9dbe1");
bar.append("rect").attr("x", 5).attr("y", 3).attr("width", 97).attr("height", 33).style("fill", "#f0f3fa");
[104.5, 252.5, 367.5, 469.5, 577.5, 1827.5].forEach(function(d){
    bar.append("line").attr("x1", d).attr("x2", d).attr("y1", 0).attr("y2", 39).style("stroke", "#e0e3eb");
});
function barText(tx, color, label, weight){
    bar.append("text").attr("x", tx).attr("y", 25.5)
        .style("font-size", "14px").style("font-weight", weight || 400).style("fill", color).text(label);
}
var ink = "#131722";
barText(13, ink, "XRPUSD", 700);
barText(113, ink, "1m");
barText(144, ink, "30m");
barText(183, ink, "1h");
barText(209, "#2196f3", "4h");
barText(404, ink, "Compare");
barText(505, ink, "Indicators");

function icon(d, color){
    bar.append("path").attr("d", d).style("fill", "none").style("stroke", color || ink).style("stroke-width", 1);
}
icon("M238.5,19 L242,22.5 L245.5,19");
icon("M353.5,19 L357,22.5 L360.5,19");
// bar style icon
icon("M268.5,13 V33 M264,26.5 H268.5 M273.5,14 V32 M273.5,20.5 H278");
// candle icon
icon("M296.5,14 H301.5 V29 H296.5 Z M299,11 V14 M299,29 V35 M303.5,18 H308.5 V27 H303.5 Z M306,14 V18 M306,27 V31", "#2196f3");
// area icon
icon("M321,30 L327,25 L331,27 L339,17 M321,32 L339,32 M323,30 L339,20 M327,32 L339,24 M332,32 L339,27");
bar.append("circle").attr("cx", 386).attr("cy", 20).attr("r", 9).style("fill", "none").style("stroke", ink);
icon("M386,15 V25 M381,20 H391");
bar.append("text").attr("x", 483).attr("y", 29).style("font-size", "21px").style("font-style", "italic").style("font-family", "DejaVu Serif").style("fill", ink).text("f");
bar.append("text").attr("x", 490).attr("y", 33).style("font-size", "12px").style("fill", ink).text("x");
// camera
icon("M1839,14 H1842 L1844,11.5 H1850 L1852,14 H1856 Q1857,14 1857,15 V26 Q1857,27 1856,27 H1838 Q1837,27 1837,26 V15 Q1837,14 1839,14 Z");
bar.append("circle").attr("cx", 1846.5).attr("cy", 20.5).attr("r", 4).style("fill", "none").style("stroke", ink);
</script>
</body>
</html>
